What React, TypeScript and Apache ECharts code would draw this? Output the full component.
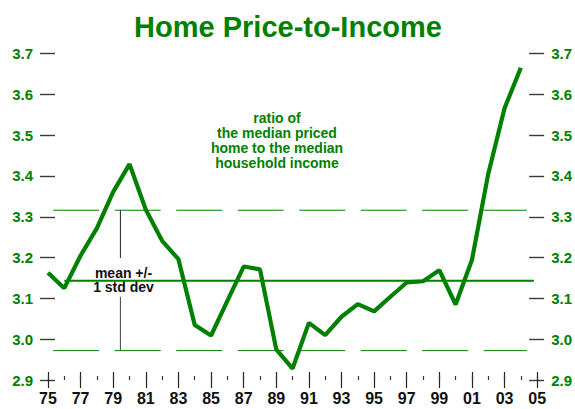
import React, { useEffect, useRef } from "react";
import * as echarts from "echarts";

// Years (two-digit labels) and price-to-income ratio values
const years = ["75","76","77","78","79","80","81","82","83","84","85","86","87","88","89","90","91","92","93","94","95","96","97","98","99","00","01","02","03","04"];
const ratios = [3.163,3.125,3.205,3.272,3.361,3.429,3.317,3.241,3.196,3.035,3.009,3.094,3.178,3.171,2.975,2.928,3.040,3.010,3.055,3.086,3.068,3.104,3.139,3.142,3.169,3.085,3.194,3.405,3.566,3.665];

// Reference lines
const meanValue = 3.143;
const upperBand = 3.316;
const lowerBand = 2.972;

// Axis tick labels
const yMin = 2.9;
const yMax = 3.7;
const yStep = 0.1;
const firstYear = 75;
const spanYears = 30;

const titleText = "Home Price-to-Income";
const noteText = "ratio of\nthe median priced\nhome to the median\nhousehold income";
const bandTextTop = "mean +/-";
const bandTextBottom = "1 std dev";

const GREEN = "#008000";
const FONT = "'Liberation Sans', Arial, Helvetica, sans-serif";

function makeYAxis(position: string, offset: number) {
  return {
    type: "value",
    position,
    offset,
    min: yMin,
    max: yMax,
    interval: yStep,
    axisLine: { show: false, onZero: false },
    splitLine: { show: false },
    axisTick: { show: true, length: 15, lineStyle: { color: "#3a3a3a", width: 1.4 } },
    axisLabel: {
      margin: 22,
      color: GREEN,
      fontWeight: "bold",
      fontSize: 15,
      fontFamily: FONT,
      formatter: (v: number) => v.toFixed(1),
    },
  };
}

export default function App() {
  const ref = useRef<HTMLDivElement>(null);

  useEffect(() => {
    if (!ref.current) return;
    const chart = echarts.init(ref.current, undefined, { renderer: "svg" });

    const lineData = ratios.map((v, i) => [i, v]);
    const bandX = 4.44;

    const option = {
      animation: false,
      backgroundColor: "#ffffff",
      grid: { left: 48, right: 34, top: 53.5, bottom: 29, containLabel: false },
      xAxis: [
        {
          type: "value",
          min: 0,
          max: spanYears,
          interval: 2,
          position: "bottom",
          offset: -8,
          axisLine: { show: false, onZero: false },
          splitLine: { show: false },
          axisTick: { show: true, length: 16, lineStyle: { color: "#222", width: 1.2 } },
          axisLabel: {
            margin: 18,
            color: "#111",
            fontWeight: "bold",
            fontSize: 16,
            fontFamily: FONT,
            formatter: (v: number) => String((firstYear + v) % 100).padStart(2, "0"),
          },
        },
        {
          type: "value",
          min: 0,
          max: spanYears,
          interval: 1,
          position: "bottom",
          offset: -4,
          axisLine: { show: false, onZero: false },
          splitLine: { show: false },
          axisTick: { show: true, length: 4, lineStyle: { color: "#333", width: 1.2 } },
          axisLabel: { show: false },
        },
      ],
      yAxis: [makeYAxis("left", -7), makeYAxis("right", -8)],
      graphic: [
        {
          type: "text",
          x: 288,
          y: 26.5,
          style: {
            text: titleText,
            fill: GREEN,
            font: `bold 29px ${FONT}`,
            textAlign: "center",
            textVerticalAlign: "middle",
          },
        },
        {
          type: "text",
          x: 277,
          y: 140.5,
          style: {
            text: noteText,
            fill: GREEN,
            font: `bold 14px ${FONT}`,
            lineHeight: 15,
            textAlign: "center",
            textVerticalAlign: "middle",
          },
        },
        {
          type: "text",
          x: 123.5,
          y: 272.5,
          style: {
            text: bandTextTop,
            fill: "#111",
            font: `bold 14px ${FONT}`,
            textAlign: "center",
            textVerticalAlign: "middle",
          },
        },
        {
          type: "text",
          x: 123.5,
          y: 287.2,
          style: {
            text: bandTextBottom,
            fill: "#111",
            font: `bold 14px ${FONT}`,
            textAlign: "center",
            textVerticalAlign: "middle",
          },
        },
      ],
      series: [
        {
          type: "line",
          silent: true,
          showSymbol: false,
          data: [[0.32, upperBand], [29.37, upperBand]],
          lineStyle: { color: GREEN, width: 1, type: [46, 15.5] },
          z: 1,
        },
        {
          type: "line",
          silent: true,
          showSymbol: false,
          data: [[0.32, lowerBand], [29.37, lowerBand]],
          lineStyle: { color: GREEN, width: 1, type: [46, 15.5] },
          z: 1,
        },
        {
          type: "line",
          silent: true,
          showSymbol: false,
          data: [[1, meanValue], [29.8, meanValue]],
          lineStyle: { color: GREEN, width: 2 },
          z: 1,
        },
        {
          type: "line",
          silent: true,
          showSymbol: false,
          data: [[bandX, upperBand], [bandX, 3.199]],
          lineStyle: { color: "#222", width: 1 },
          z: 1,
        },
        {
          type: "line",
          silent: true,
          showSymbol: false,
          data: [[bandX, 3.104], [bandX, lowerBand]],
          lineStyle: { color: "#444", width: 1 },
          z: 1,
        },
        {
          type: "line",
          silent: true,
          showSymbol: false,
          data: lineData,
          lineStyle: { color: GREEN, width: 4.2 },
          z: 3,
        },
      ],
    };

    chart.setOption(option as any);
    return () => chart.dispose();
  }, []);

  return (
    <div
      ref={ref}
      style={{ position: "absolute", left: 0, top: 0, width: 575, height: 409, background: "#fff" }}
    />
  );
}
